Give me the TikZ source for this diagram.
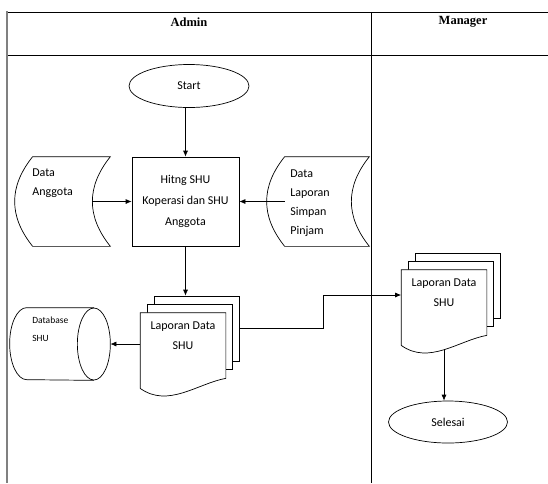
\documentclass[tikz,border=0pt]{standalone}
\usepackage{fontspec}
\setmainfont{Carlito}
\newfontfamily\headfont{Liberation Serif}
\usetikzlibrary{arrows.meta,shapes.geometric}

\begin{document}
\begin{tikzpicture}[x=1pt, y=-1pt, line width=0.7pt, >={Latex[length=6pt,width=5pt]},
    every node/.style={inner sep=0pt, font=\fontsize{12}{19}\selectfont},
    header/.style={font=\headfont\bfseries\fontsize{12.5}{14}\selectfont},
    terminal/.style={ellipse, draw, minimum width=120pt, minimum height=43pt},
    process/.style={rectangle, draw, minimum width=107pt, minimum height=89pt,
      align=center, font=\fontsize{12}{21}\selectfont},
    store/.style={rectangle, minimum width=#1, minimum height=89pt},
    sheet/.style={rectangle, draw, fill=white, minimum width=85pt, minimum height=65pt},
    docfront/.style={rectangle, minimum width=85pt, minimum height=75pt},
    txt/.style={align=left, anchor=north west}]
      \useasboundingbox (0,0) rectangle (548,483);

      % swimlanes
      \draw (7,12) -- (548,12);
      \draw (7,55) -- (548,55);
      \draw (371,12) -- (371,483);
      \draw[gray, line width=2.5pt] (7,11) -- (7,483);
      \node[header] (admin) at (189,22) {Admin};
      \node[header] (manager) at (463,22) {Manager};

      % admin lane
      \node[terminal] (start) at (189,86) {Start};
      \node[process] (hitung) at (185.5,201.5) {Hitng SHU\\Koperasi dan SHU\\Anggota};

      \node[store=95pt] (anggota) at (62.5,201.5) {};
      \draw ([xshift=18pt]anggota.north west) -- (anggota.north east)
        .. controls +(-24,30) and +(-24,-30) .. (anggota.south east)
        -- ([xshift=18pt]anggota.south west)
        .. controls +(-24,-30) and +(-24,30) .. ([xshift=18pt]anggota.north west);
      \node[txt] (anggotatxt) at (32,168) {Data\\Anggota};

      \node[store=102pt] (simpan) at (318,201.5) {};
      \draw ([xshift=18pt]simpan.north west) -- (simpan.north east)
        .. controls +(-24,30) and +(-24,-30) .. (simpan.south east)
        -- ([xshift=18pt]simpan.south west)
        .. controls +(-24,-30) and +(-24,30) .. ([xshift=18pt]simpan.north west);
      \node[txt, font=\fontsize{12}{19.3}\selectfont] (simpantxt) at (290,169)
        {Data\\Laporan\\Simpan\\Pinjam};

      \node[sheet] (lapA3) at (197,328.5) {};
      \node[sheet] (lapA2) at (190,337) {};
      \node[docfront] (lapA) at (183,350.5) {};
      \draw[fill=white] (lapA.south west) -- (lapA.north west) -- (lapA.north east)
        -- ([yshift=10pt]lapA.south east)
        .. controls +(-28,5) and +(28,20) .. (lapA.south west) -- cycle;
      \node[anchor=north, align=center, font=\fontsize{12}{20}\selectfont] (lapAtxt)
        at (183,321) {Laporan Data\\SHU};

      \node[rectangle, minimum width=100pt, minimum height=72pt] (db) at (60,344) {};
      \draw ([xshift=-16.5pt]db.north east) -- ([xshift=17pt]db.north west)
        arc[start angle=90, end angle=270, x radius=17pt, y radius=36pt]
        -- ([xshift=-16.5pt]db.south east);
      \draw ([xshift=-16.5pt]db.east) ellipse[x radius=16.5pt, y radius=36pt];
      \node[txt, font=\fontsize{9.5}{18}\selectfont] (dbtxt) at (32,317) {Database\\SHU};

      % manager lane
      \node[sheet] (lapB3) at (458,285.5) {};
      \node[sheet] (lapB2) at (451,294) {};
      \node[docfront] (lapB) at (444,307.5) {};
      \draw[fill=white] (lapB.south west) -- (lapB.north west) -- (lapB.north east)
        -- ([yshift=10pt]lapB.south east)
        .. controls +(-28,5) and +(28,20) .. (lapB.south west) -- cycle;
      \node[anchor=north, align=center, font=\fontsize{12}{20}\selectfont] (lapBtxt)
        at (444,278) {Laporan Data\\SHU};

      \node[terminal, minimum width=119pt, minimum height=42pt] (selesai) at (448,422) {Selesai};

      % flow
      \draw[->] (start.south -| hitung) -- (hitung.north);
      \draw[->] ([xshift=-18pt]anggota.east) -- (hitung.west);
      \draw[->] ([xshift=18pt]simpan.west) -- (hitung.east);
      \draw[->] (hitung.south) -- (hitung.south |- lapA3.north);
      \draw[->] (lapA.west |- db.east) -- (db.east);
      \draw[->] (lapA3.east) -- ++(83,0) |- ([yshift=12.5pt]lapB.west);
      \draw[->] ([yshift=-4pt]lapB.south) -- (lapB.south |- selesai.north);

      \end{tikzpicture}
\end{document}
